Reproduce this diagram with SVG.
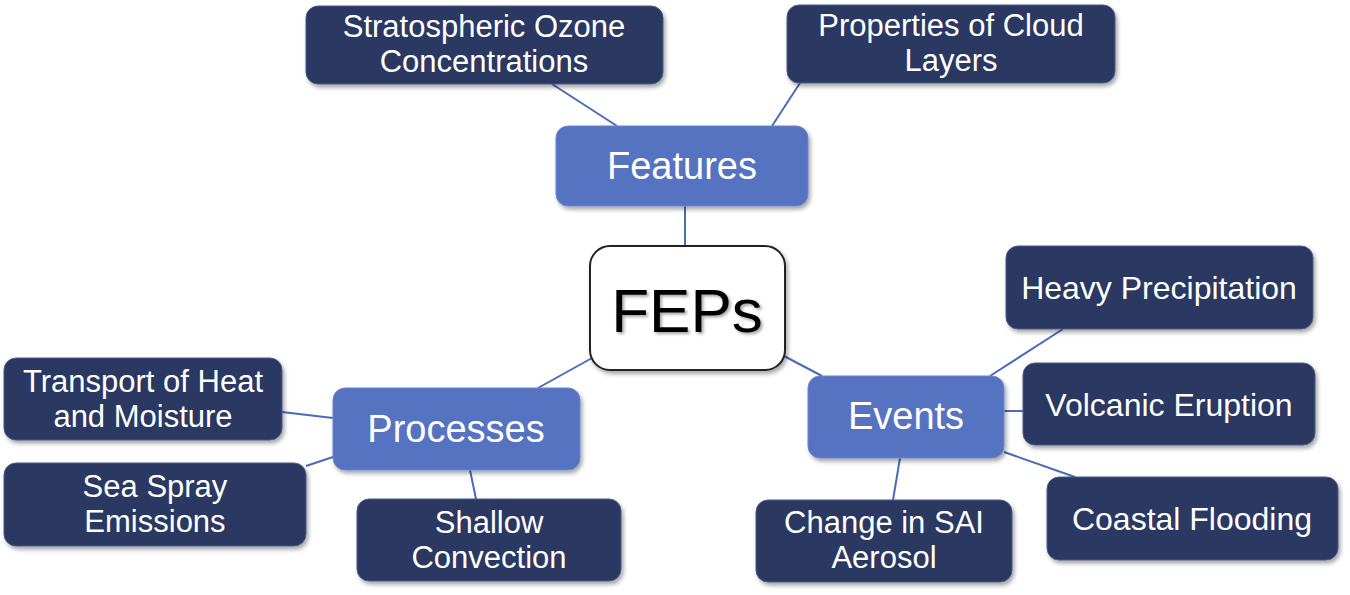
<svg xmlns="http://www.w3.org/2000/svg" width="1350" height="595" viewBox="0 0 1350 595">
<defs>
<filter id="sh" x="-10%" y="-10%" width="120%" height="130%">
<feDropShadow dx="2" dy="3" stdDeviation="2" flood-color="#000" flood-opacity="0.35"/>
</filter>
<filter id="tsh" x="-10%" y="-10%" width="120%" height="130%">
<feDropShadow dx="2" dy="2" stdDeviation="1.5" flood-color="#000" flood-opacity="0.35"/>
</filter>
</defs>
<style>
.dark{fill:#2c3962;stroke:#4a5a85;stroke-width:1;filter:url(#sh)}
.mid{fill:#5673c1;stroke:#6b86cc;stroke-width:1;filter:url(#sh)}
.core{fill:#fff;stroke:#222;stroke-width:2;filter:url(#sh)}
.t{font-family:"Liberation Sans",Arial,sans-serif;fill:#fff;text-anchor:middle;font-size:32px}
.t2{font-family:"Liberation Sans",Arial,sans-serif;fill:#fff;text-anchor:middle;font-size:31px}
.tm{font-family:"Liberation Sans",Arial,sans-serif;fill:#fff;text-anchor:middle;font-size:38px}
.tc{font-family:"Liberation Sans",Arial,sans-serif;fill:#000;text-anchor:middle;font-size:62px;filter:url(#tsh)}
.c line{stroke:#4a6cb8;stroke-width:2}
</style>
<g class="c" id="connectors">
<line x1="552" y1="84" x2="617" y2="126"/>
<line x1="800" y1="83" x2="772" y2="126"/>
<line x1="685" y1="206" x2="685" y2="246"/>
<line x1="592" y1="358" x2="538" y2="388"/>
<line x1="784" y1="356" x2="822" y2="376"/>
<line x1="990" y1="376" x2="1063" y2="329"/>
<line x1="1004" y1="411" x2="1023" y2="411"/>
<line x1="1004" y1="452" x2="1075" y2="477"/>
<line x1="900" y1="458" x2="893" y2="500"/>
<line x1="282" y1="412" x2="333" y2="418"/>
<line x1="306" y1="466" x2="333" y2="457"/>
<line x1="470" y1="470" x2="476" y2="499"/>
</g>
<g id="ozone"><rect class="dark" x="306" y="6" width="357" height="78" rx="12"/><text class="t2" x="484" y="37">Stratospheric Ozone</text><text class="t2" x="484" y="72">Concentrations</text></g>
<g id="cloud"><rect class="dark" x="787" y="5" width="328" height="78" rx="12"/><text class="t2" x="951" y="36">Properties of Cloud</text><text class="t2" x="951" y="71">Layers</text></g>
<g id="features"><rect class="mid" x="556" y="126" width="252" height="80" rx="12"/><text class="tm" x="682" y="179">Features</text></g>
<g id="feps"><rect class="core" x="590" y="246" width="195" height="124" rx="20"/><text class="tc" x="687" y="332">FEPs</text></g>
<g id="heavy"><rect class="dark" x="1006" y="246" width="307" height="83" rx="12"/><text class="t" x="1159" y="299">Heavy Precipitation</text></g>
<g id="volcanic"><rect class="dark" x="1023" y="363" width="292" height="82" rx="12"/><text class="t" x="1169" y="416">Volcanic Eruption</text></g>
<g id="events"><rect class="mid" x="808" y="376" width="196" height="82" rx="12"/><text class="tm" x="906" y="429">Events</text></g>
<g id="coastal"><rect class="dark" x="1047" y="477" width="291" height="83" rx="12"/><text class="t" x="1192" y="530">Coastal Flooding</text></g>
<g id="sai"><rect class="dark" x="756" y="500" width="256" height="82" rx="12"/><text class="t2" x="884" y="533">Change in SAI</text><text class="t2" x="884" y="568">Aerosol</text></g>
<g id="transport"><rect class="dark" x="4" y="358" width="278" height="82" rx="12"/><text class="t2" x="143" y="392">Transport of Heat</text><text class="t2" x="143" y="427">and Moisture</text></g>
<g id="processes"><rect class="mid" x="333" y="388" width="247" height="82" rx="12"/><text class="tm" x="456" y="442">Processes</text></g>
<g id="seaspray"><rect class="dark" x="4" y="463" width="302" height="83" rx="12"/><text class="t2" x="155" y="497">Sea Spray</text><text class="t2" x="155" y="532">Emissions</text></g>
<g id="shallow"><rect class="dark" x="357" y="499" width="264" height="82" rx="12"/><text class="t2" x="489" y="533">Shallow</text><text class="t2" x="489" y="568">Convection</text></g>
</svg>
